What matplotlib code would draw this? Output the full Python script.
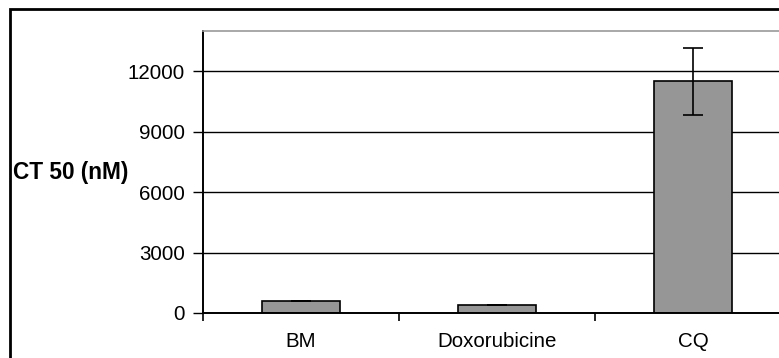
import matplotlib.pyplot as plt
from matplotlib.patches import Rectangle
from matplotlib.ticker import FixedLocator

plt.rcParams['font.family'] = ['Liberation Sans', 'DejaVu Sans']
plt.rcParams['font.size'] = 14.8

# CT50 valori (nM) con deviazione
farmaci = ["BM", "Doxorubicine", "CQ"]
ct50 = [600, 400, 11500]
errori = [20, 15, 1650]
ticks_y = [0, 3000, 6000, 9000, 12000]

fig = plt.figure(figsize=(7.79, 3.58), dpi=100)
ax = fig.add_axes([203 / 779, 1 - 313 / 358, 576 / 779, 282 / 358])

ax.set_axisbelow(True)
ax.grid(axis="y", color="black", linewidth=1)
ax.bar(range(len(farmaci)), ct50, width=0.40, color="#969696",
       edgecolor="black", linewidth=1.2, zorder=2)
ax.errorbar(range(len(farmaci)), ct50, yerr=errori, fmt="none",
            ecolor="black", elinewidth=1.2, capsize=7, capthick=1.2, zorder=3)

ax.set_ylim(0, 14000)
ax.set_xlim(-0.5, -0.5 + 576 / 196)
ax.set_yticks(ticks_y)
ax.set_xticks(range(len(farmaci)))
ax.set_xticklabels(farmaci)
ax.xaxis.set_minor_locator(FixedLocator([-0.5, 0.5, 1.5, 2.5]))
ax.tick_params(axis="x", which="major", length=0, pad=14)
ax.tick_params(axis="x", which="minor", length=6, width=1.2, direction="out")
ax.tick_params(axis="y", length=7, width=1, pad=6)

for lato in ["left", "bottom"]:
    ax.spines[lato].set_linewidth(1.4)
ax.spines["top"].set_color("#9a9a9a")
ax.spines["top"].set_linewidth(1.2)
ax.spines["right"].set_visible(False)

ax.set_ylabel("CT 50 (nM)", rotation=0, fontweight="bold", fontsize=16.3,
              ha="center", va="center")
ax.yaxis.set_label_coords(-0.230, 0.5)

# cornice esterna
fig.patches.append(Rectangle((10 / 779, -0.1), 1.2, 1.1 - 9 / 358, transform=fig.transFigure,
                             fill=False, edgecolor="black", linewidth=2, clip_on=False))

plt.savefig("out.png", dpi=100)
